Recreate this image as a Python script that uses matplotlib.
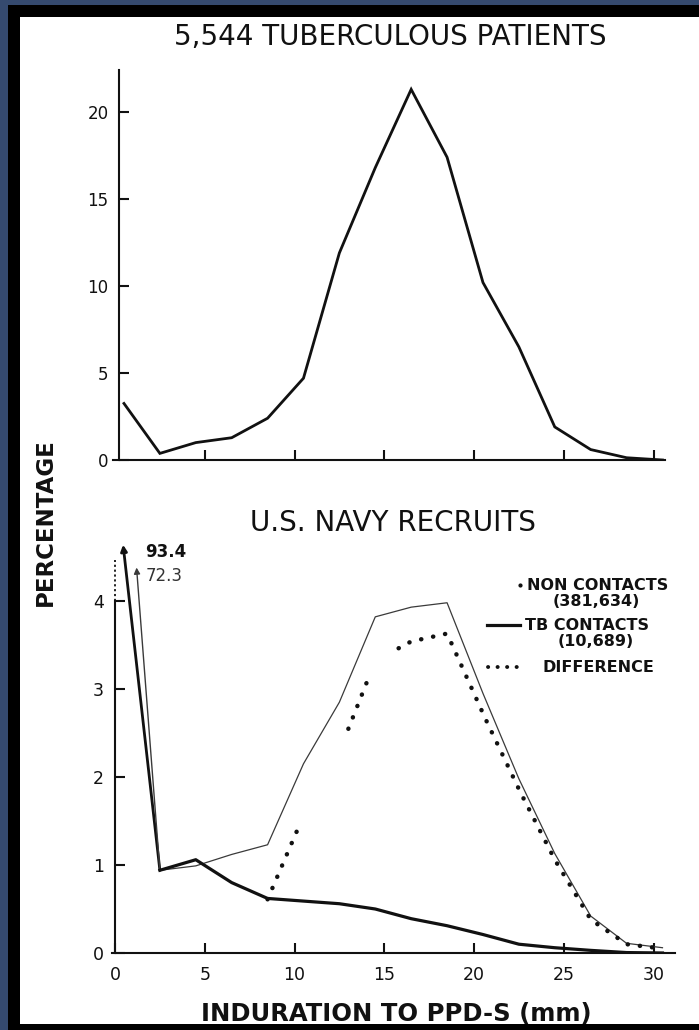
import numpy as np
import matplotlib
matplotlib.use("Agg")
import matplotlib.pyplot as plt
from matplotlib.patches import Rectangle
from matplotlib.lines import Line2D

# ---------------- data ----------------
induration_mm = [0.5, 2.5, 4.5, 6.5, 8.5, 10.5, 12.5, 14.5, 16.5, 18.5,
                 20.5, 22.5, 24.5, 26.5, 28.5, 30.5]

tb_patients_pct = [3.25, 0.38, 1.0, 1.28, 2.4, 4.7, 11.9, 16.8, 21.3, 17.4,
                   10.2, 6.5, 1.9, 0.6, 0.13, 0.0]

# Navy recruits (first bin is off scale, shown by arrows)
non_contacts_pct = [93.4, 0.94, 1.06, 0.80, 0.62, 0.59, 0.56, 0.50, 0.39, 0.31,
                    0.21, 0.10, 0.06, 0.03, 0.005, 0.0]
tb_contacts_pct = [72.3, 0.94, 0.99, 1.12, 1.23, 2.15, 2.85, 3.82, 3.93, 3.98,
                   2.95, 1.98, 1.13, 0.42, 0.11, 0.06]
difference_pct = [None, None, None, None, 0.61, 1.56, 2.29, 3.32, 3.54, 3.63,
                  2.72, 1.86, 1.06, 0.38, 0.10, 0.05]
difference_drawn_ranges = [(8.5, 10.2), (13.0, 14.2), (15.8, 30.5)]

top_yticks = [0, 5, 10, 15, 20]
top_xticks = [5, 10, 15, 20, 25, 30]
bot_yticks = [0, 1, 2, 3, 4]
bot_xticks = [0, 5, 10, 15, 20, 25, 30]

title_top = "5,544 TUBERCULOUS PATIENTS"
title_bot = "U.S. NAVY RECRUITS"
ylabel = "PERCENTAGE"
xlabel = "INDURATION TO PPD-S (mm)"
legend_labels = ["NON CONTACTS", "(381,634)", "TB CONTACTS", "(10,689)", "DIFFERENCE"]

# ---------------- figure ----------------
W, H, DPI = 699, 1030, 100
fig = plt.figure(figsize=(W / DPI, H / DPI), dpi=DPI)
fig.patch.set_facecolor("#354a6f")


def fx(x):
    return x / W


def fy(y):
    return 1 - y / H


def frect(x0, y0, x1, y1, **kw):
    return Rectangle((fx(x0), fy(y1)), fx(x1) - fx(x0), fy(y0) - fy(y1),
                     transform=fig.transFigure, **kw)


fig.patches.append(frect(8, 5, W, H, facecolor="black", edgecolor="none", zorder=-10))
fig.patches.append(frect(20, 17, W, 1024, facecolor="white", edgecolor="none", zorder=-9))
fig.patches.append(frect(8, 1024, W, H, facecolor="black", edgecolor="none", zorder=20))

FONT = "DejaVu Sans"
INK = "#111111"
DOT_LS = (0, (0.05, 2.7))

# ---------------- top axes ----------------
PXMM = 17.95
X0PX = 115.0


def axrect(xmin, xmax, ytop_px, ybot_px):
    left = X0PX + xmin * PXMM
    right = X0PX + xmax * PXMM
    return [fx(left), fy(ybot_px), fx(right) - fx(left), fy(ytop_px) - fy(ybot_px)]


t_xmin, t_xmax = -0.11, 30.64
ax1 = fig.add_axes(axrect(t_xmin, t_xmax, 70, 460))
ax1.set_xlim(t_xmin, t_xmax)
ax1.set_ylim(0, (460 - 70) / 17.4)
ax1.patch.set_visible(False)
for s in ["top", "right"]:
    ax1.spines[s].set_visible(False)
ax1.spines["left"].set_position(("data", 0.25))
for s in ["left", "bottom"]:
    ax1.spines[s].set_linewidth(1.5)
    ax1.spines[s].set_color(INK)
ax1.plot(induration_mm, tb_patients_pct, color=INK, lw=2.0, solid_joinstyle="miter")
ax1.set_xticks(top_xticks)
ax1.set_xticklabels([])
ax1.set_yticks(top_yticks)
ax1.set_yticklabels([str(v) for v in top_yticks], fontsize=12, family=FONT, color=INK)
ax1.tick_params(axis="both", direction="in", length=7, width=1.5, color=INK)
ax1.tick_params(axis="y", pad=8)
fig.text(fx(390), fy(37), title_top, ha="center", va="center", fontsize=20,
         family=FONT, color=INK)

# ---------------- bottom axes ----------------
b_xmin, b_xmax = -0.15, 31.2
ax2 = fig.add_axes(axrect(b_xmin, b_xmax, 560, 953))
ax2.set_xlim(b_xmin, b_xmax)
ax2.set_ylim(0, (953 - 560) / 88.0)
ax2.patch.set_visible(False)
for s in ["top", "right"]:
    ax2.spines[s].set_visible(False)
ax2.spines["left"].set_position(("data", 0))
ax2.spines["left"].set_bounds(0, 4)
for s in ["left", "bottom"]:
    ax2.spines[s].set_linewidth(1.5)
    ax2.spines[s].set_color(INK)
ax2.plot([0, 0], [4, ax2.get_ylim()[1]], color=INK, lw=1.3, ls=(0, (1.2, 1.5)),
         clip_on=False)

x = np.array(induration_mm)
nc = np.array(non_contacts_pct)
tc = np.array(tb_contacts_pct)
ax2.plot(x[1:], nc[1:], color=INK, lw=2.3, solid_joinstyle="round", zorder=4)
ax2.plot(x[1:], tc[1:], color="#3a3a3a", lw=0.9, zorder=3)

# off-scale first bins as arrows
ax2.annotate("", xy=(0.45, 4.64), xytext=(x[1], nc[1]), annotation_clip=False,
             arrowprops=dict(arrowstyle="-|>", lw=2.0, color=INK, mutation_scale=9,
                             shrinkA=0, shrinkB=0))
ax2.annotate("", xy=(1.2, 4.38), xytext=(x[1], tc[1]), annotation_clip=False,
             arrowprops=dict(arrowstyle="-|>", lw=1.0, color="#3a3a3a", mutation_scale=9,
                             shrinkA=0, shrinkB=0))
ax2.text(1.7, 4.56, f"{non_contacts_pct[0]:.1f}", fontsize=12, weight="bold",
         family=FONT, color=INK, va="center", ha="left", clip_on=False)
ax2.text(1.7, 4.28, f"{tb_contacts_pct[0]:.1f}", fontsize=12, family=FONT,
         color="#333333", va="center", ha="left", clip_on=False)

# difference (drawn in pieces)
dx = np.array([xi for xi, d in zip(induration_mm, difference_pct) if d is not None])
dv = np.array([d for d in difference_pct if d is not None])
for a, b in difference_drawn_ranges:
    xs = np.linspace(a, b, 200)
    ax2.plot(xs, np.interp(xs, dx, dv), color=INK, lw=3.2, ls=DOT_LS,
             dash_capstyle="round", zorder=5)

ax2.set_xticks(bot_xticks)
ax2.set_xticklabels([str(v) for v in bot_xticks], fontsize=12.5, family=FONT, color=INK)
ax2.set_yticks(bot_yticks)
ax2.set_yticklabels([str(v) for v in bot_yticks], fontsize=12.5, family=FONT, color=INK)
ax2.tick_params(axis="both", direction="in", length=7, width=1.5, color=INK)
ax2.tick_params(axis="x", pad=9)
ax2.tick_params(axis="y", pad=8)

fig.text(fx(393), fy(523), title_bot, ha="center", va="center", fontsize=20,
         family=FONT, color=INK)

# legend (manual)
LFS = 11.5
fig.text(fx(527), fy(585), legend_labels[0], ha="left", va="center", fontsize=LFS,
         weight="bold", family=FONT, color=INK)
fig.lines.append(Line2D([fx(520)], [fy(585)], marker="o", ms=2, color=INK,
                        transform=fig.transFigure))
fig.text(fx(596), fy(602), legend_labels[1], ha="center", va="center", fontsize=LFS,
         weight="bold", family=FONT, color=INK)
fig.lines.append(Line2D([fx(487), fx(520)], [fy(625), fy(625)], lw=2.3, color=INK,
                        transform=fig.transFigure))
fig.text(fx(525), fy(625), legend_labels[2], ha="left", va="center", fontsize=LFS,
         weight="bold", family=FONT, color=INK)
fig.text(fx(596), fy(642), legend_labels[3], ha="center", va="center", fontsize=LFS,
         weight="bold", family=FONT, color=INK)
fig.lines.append(Line2D([fx(488), fx(518)], [fy(667), fy(667)], lw=2.8, color=INK,
                        ls=(0, (0.05, 2.4)), dash_capstyle="round",
                        transform=fig.transFigure))
fig.text(fx(542), fy(667), legend_labels[4], ha="left", va="center", fontsize=LFS,
         weight="bold", family=FONT, color=INK)

# axis labels
fig.text(fx(45), fy(522), ylabel, rotation=90, ha="center", va="center", fontsize=16.5,
         weight="bold", family=FONT, color=INK)
fig.text(fx(396), fy(1014), xlabel, ha="center", va="center", fontsize=17.5,
         weight="bold", family=FONT, color=INK)

fig.savefig("out.png", dpi=DPI, facecolor=fig.get_facecolor())
